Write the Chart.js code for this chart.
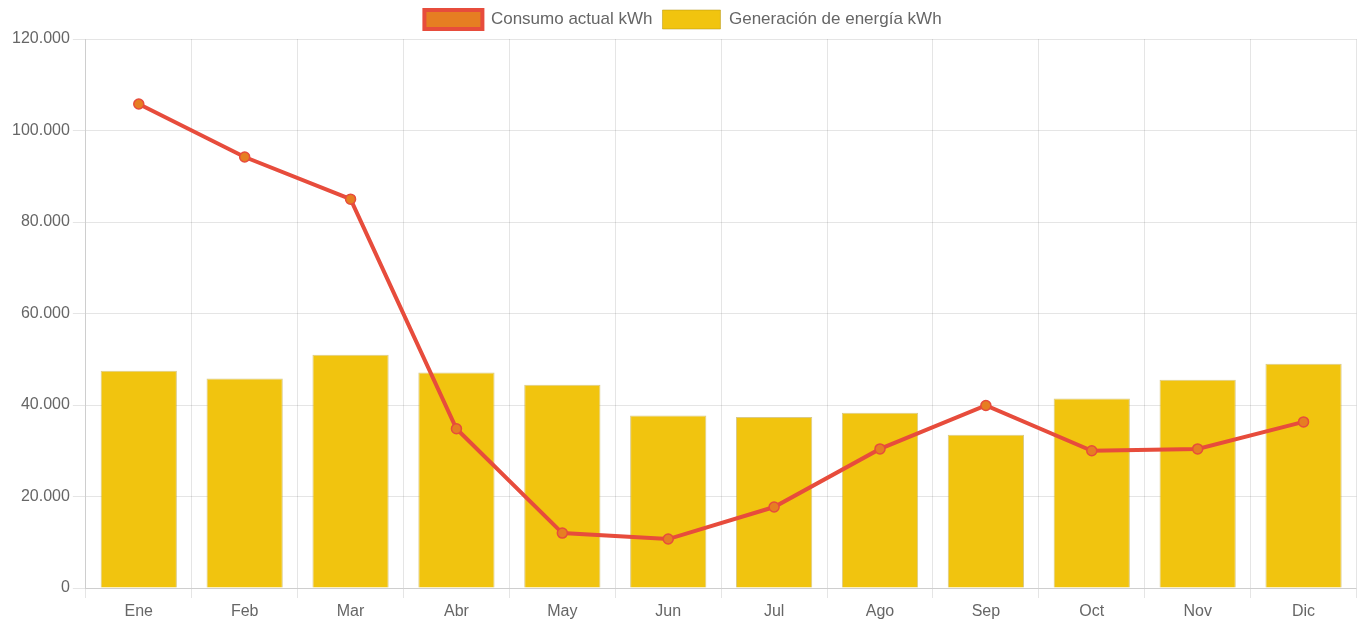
<!DOCTYPE html>
<html lang="es">
<head>
    <meta charset="UTF-8">
    <title>Consumo vs Generación</title>
    <script src="https://cdn.jsdelivr.net/npm/chart.js"></script>
    <style>
        body { margin: 0; padding: 0; background: #fff; }
        #wrap { width: 1363px; height: 626px; }
    </style>
</head>
<body>
    <div id="wrap"><canvas id="energyChart" width="1363" height="626"></canvas></div>

    <script>
        const months = ['Ene', 'Feb', 'Mar', 'Abr', 'May', 'Jun', 'Jul', 'Ago', 'Sep', 'Oct', 'Nov', 'Dic'];
        const consumo = [105800, 94200, 85000, 34800, 12000, 10700, 17700, 30400, 39900, 30000, 30400, 36300];
        const generacion = [47500, 45800, 51000, 47100, 44400, 37700, 37400, 38300, 33500, 41400, 45500, 49000];

        function fmt(v) {
            return String(v).replace(/\B(?=(\d{3})+(?!\d))/g, '.');
        }

        Chart.defaults.font.family = "'Liberation Sans', Arial, sans-serif";
        Chart.defaults.font.size = 16;
        Chart.defaults.color = '#666';

        new Chart(document.getElementById('energyChart').getContext('2d'), {
            type: 'bar',
            data: {
                labels: months,
                datasets: [{
                    type: 'line',
                    label: 'Consumo actual kWh',
                    data: consumo,
                    borderColor: '#E74C3C',
                    backgroundColor: '#E67E22',
                    borderWidth: 4,
                    pointRadius: 5,
                    pointBorderWidth: 1.5,
                    pointBackgroundColor: '#E67E22',
                    pointBorderColor: '#E74C3C',
                    fill: false,
                    tension: 0
                }, {
                    label: 'Generación de energía kWh',
                    data: generacion,
                    backgroundColor: '#F1C40F',
                    borderColor: 'rgba(180,150,20,0.5)',
                    borderWidth: 1
                }]
            },
            options: {
                responsive: false,
                animation: false,
                layout: { padding: { left: 9, right: 6 } },
                plugins: {
                    legend: {
                        labels: {
                            boxWidth: 58,
                            boxHeight: 19,
                            padding: 10,
                            font: { size: 17 }
                        }
                    },
                    tooltip: { enabled: false }
                },
                scales: {
                    x: {
                        grid: { offset: true, tickLength: 10 },
                        ticks: { padding: 6, font: { lineHeight: 1.0 } }
                    },
                    y: {
                        min: 0,
                        max: 120000,
                        ticks: {
                            stepSize: 20000,
                            callback: v => fmt(v)
                        },
                        grid: { tickLength: 13 }
                    }
                }
            }
        });
    </script>
</body>
</html>
